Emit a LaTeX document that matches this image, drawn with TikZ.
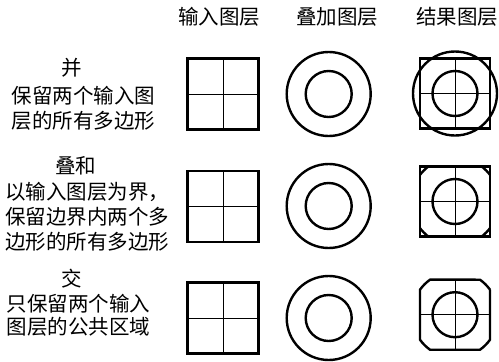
\documentclass[tikz,border=0pt]{standalone}
\usepackage{fontspec}
\setmainfont{Noto Sans CJK SC}
\begin{document}
\begin{tikzpicture}[x=1pt,y=-1pt,
  thickline/.style={line width=2.4pt},
  thinline/.style={line width=1pt},
  lbl/.style={font=\fontsize{20.5}{24}\selectfont, inner sep=0pt},
  ln/.style={lbl, anchor=west},
  sqgrid/.pic={
    \draw[thinline] (-35.5,0) -- (35.5,0) (0,-35.5) -- (0,35.5);
    \draw[thickline] (-35.5,-35.5) rectangle (35.5,35.5);
  },
  ring/.pic={
    \draw[thickline] (0,0) circle[radius=42] (0,0) circle[radius=23];
  },
  cross/.pic={
    \draw[thinline] (-35,0) -- (35,0) (0,-35) -- (0,35);
    \draw[thickline] (0,0) circle[radius=22.5];
  }
]
\useasboundingbox[fill=white] (0,0) rectangle (499,362);

% headers
\node[lbl] (h1) at (219,17) {输入图层};
\node[lbl] (h2) at (337,17) {叠加图层};
\node[lbl] (h3) at (457,17) {结果图层};

% row 1 text
\node[lbl] (t1) at (72,68) {并};
\node[ln] (t1a) at (11.7,96) {保留两个输入图};
\node[ln] (t1b) at (11.7,120.5) {层的所有多边形};
% row 2 text
\node[lbl] (t2) at (76,166) {叠和};
\node[ln] (t2a) at (5,191.7) {以输入图层为界，};
\node[ln] (t2b) at (5,216.7) {保留边界内两个多};
\node[ln] (t2c) at (5,241.7) {边形的所有多边形};
% row 3 text
\node[lbl] (t3) at (72,278.5) {交};
\node[ln] (t3a) at (6.7,303.3) {只保留两个输入};
\node[ln] (t3b) at (6.7,326.7) {图层的公共区域};

% input squares
\pic at (223,94) {sqgrid};
\pic at (223,206.5) {sqgrid};
\pic at (223,318) {sqgrid};

% overlay rings
\pic at (328.7,94) {ring};
\pic at (328.7,206) {ring};
\pic at (328.7,318) {ring};

% result 1: union
\begin{scope}[shift={(455,93.5)}]
  \pic {cross};
  \draw[thickline] (-35,-35) rectangle (35,35);
  \draw[thickline] (0,0) circle[radius=42];
\end{scope}

% result 2: identity
\begin{scope}[shift={(455,201.5)}]
  \pic {cross};
  \begin{scope}
    \clip (-35,-35) rectangle (35,35);
    \draw[thickline] (0,0) circle[radius=44];
  \end{scope}
  \draw[thickline] (-35,-35) rectangle (35,35);
\end{scope}

% result 3: intersection
\begin{scope}[shift={(455,314.7)}]
  \pic {cross};
  \draw[thickline] (35,-25) -- (35,25)
    arc[start angle=35.5,end angle=54.5,radius=43] -- (-25,35)
    arc[start angle=125.5,end angle=144.5,radius=43] -- (-35,-25)
    arc[start angle=215.5,end angle=234.5,radius=43] -- (25,-35)
    arc[start angle=305.5,end angle=324.5,radius=43] -- cycle;
\end{scope}
\end{tikzpicture}
\end{document}
